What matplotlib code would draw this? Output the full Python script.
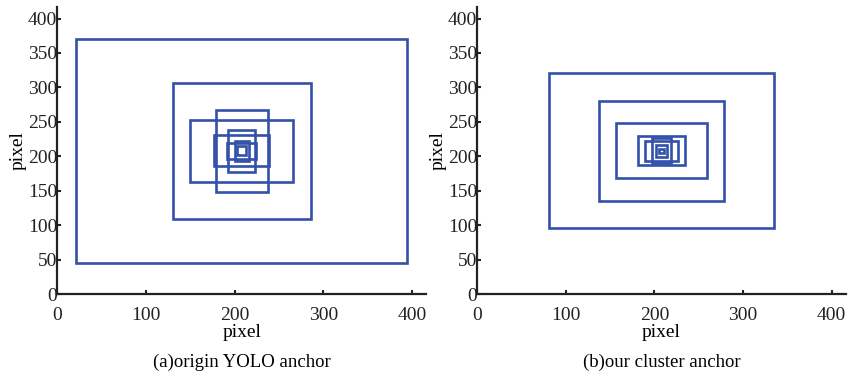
import numpy as np
import matplotlib
matplotlib.use("Agg")
import matplotlib.pyplot as plt
from matplotlib.patches import Rectangle

plt.rcParams['font.family'] = ['Liberation Serif', 'DejaVu Serif']

# anchor sizes (width, height) in pixels, drawn centred on a 416x416 image
yolo_w = [10, 16, 33, 30, 62, 59, 116, 156, 373]
yolo_h = [13, 30, 23, 61, 45, 119, 90, 198, 326]
ours_w = [6, 12, 22, 38, 52, 102, 140, 253]
ours_h = [6, 18, 36, 30, 42, 80, 146, 225]
img_size = 416
captions = ['(a)origin YOLO anchor', '(b)our cluster anchor']

fig = plt.figure(figsize=(8.49, 3.74), dpi=100)
ax1 = fig.add_axes([0.0675, 0.213, 0.4343, 0.767])
ax2 = fig.add_axes([0.562, 0.213, 0.4343, 0.767])

c = img_size / 2
for ax, ws, hs, cap in [(ax1, yolo_w, yolo_h, captions[0]), (ax2, ours_w, ours_h, captions[1])]:
    for w, h in zip(ws, hs):
        ax.add_patch(Rectangle((c - w / 2, c - h / 2), w, h, fill=False,
                               edgecolor='#3350aa', linewidth=1.9))
    ax.set_xlim(0, img_size)
    ax.set_ylim(0, img_size)
    ax.set_xticks(np.arange(0, 401, 100))
    ax.set_yticks(np.arange(0, 401, 50))
    ax.spines['top'].set_visible(False)
    ax.spines['right'].set_visible(False)
    for s in ['left', 'bottom']:
        ax.spines[s].set_linewidth(1.6)
        ax.spines[s].set_color('#222222')
    ax.tick_params(direction='in', length=3, width=1.5, labelsize=14, colors='#222222')
    ax.tick_params(axis='x', pad=9)
    ax.tick_params(axis='y', pad=0)
    ax.set_xlabel('pixel', fontsize=14, labelpad=0)
    ax.set_ylabel('pixel', fontsize=14, labelpad=1)
    ax.text(0.5, -0.237, cap, transform=ax.transAxes, ha='center', va='center', fontsize=13.5)

fig.savefig('out.png', dpi=100)
